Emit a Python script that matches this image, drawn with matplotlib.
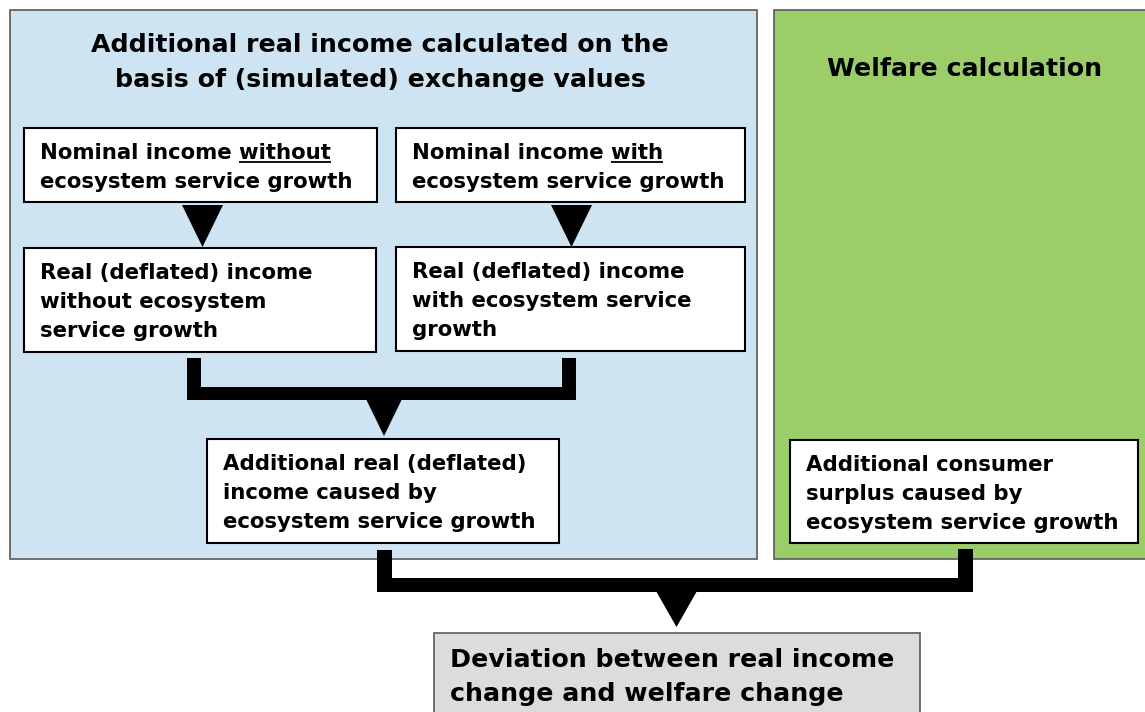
import matplotlib
matplotlib.use('Agg')
import matplotlib.pyplot as plt
from matplotlib.patches import Rectangle, Polygon

# diagram texts
left_title = ['Additional real income calculated on the',
              'basis of (simulated) exchange values']
right_title = 'Welfare calculation'
box_texts = [
    ['Nominal income without', 'ecosystem service growth'],
    ['Nominal income with', 'ecosystem service growth'],
    ['Real (deflated) income', 'without ecosystem', 'service growth'],
    ['Real (deflated) income', 'with ecosystem service', 'growth'],
    ['Additional real (deflated)', 'income caused by', 'ecosystem service growth'],
    ['Additional consumer', 'surplus caused by', 'ecosystem service growth'],
]
underlined = {0: 'without', 1: 'with'}
result_text = ['Deviation between real income', 'change and welfare change']

# layout in pixels (x0, y0, x1, y1), y downwards
box_geom = [(24, 128, 377, 202), (396, 128, 745, 202),
            (24, 248, 376, 352), (396, 247, 745, 351),
            (207, 439, 559, 543), (790, 440, 1138, 543)]

W, H = 1145, 712
fig = plt.figure(figsize=(W / 100, H / 100), dpi=100)
ax = fig.add_axes([0, 0, 1, 1])
ax.set_xlim(0, W)
ax.set_ylim(H, 0)
ax.axis('off')

font = 'DejaVu Sans'
fs_box = 15.3
fs_title = 18.2


def rect(x0, y0, x1, y1, fc, ec='black', lw=1.5, z=1):
    ax.add_patch(Rectangle((x0, y0), x1 - x0, y1 - y0, facecolor=fc,
                           edgecolor=ec, linewidth=lw, zorder=z))


def bar(x0, y0, x1, y1):
    ax.add_patch(Rectangle((x0, y0), x1 - x0, y1 - y0, facecolor='black',
                           edgecolor='none', zorder=3))


def tri(xl, xr, ytop, ytip):
    ax.add_patch(Polygon([(xl, ytop), (xr, ytop), ((xl + xr) / 2, ytip)],
                         closed=True, facecolor='black', edgecolor='none', zorder=3))


# panels
rect(10, 10, 757, 559, '#cfe4f3', ec='#5a5a5a', lw=1.2, z=0)
rect(774, 10, 1150, 559, '#9bcd69', ec='#5a5a5a', lw=1.2, z=0)

for i, line in enumerate(left_title):
    ax.text(380, 52 + i * 35, line, ha='center', va='baseline',
            fontsize=fs_title, fontweight='bold', family=font)
ax.text(965, 76, right_title, ha='center', va='baseline',
        fontsize=fs_title, fontweight='bold', family=font)

# boxes
texts_ul = []
for k, (g, lines) in enumerate(zip(box_geom, box_texts)):
    x0, y0, x1, y1 = g
    rect(x0, y0, x1, y1, 'white', z=2)
    for i, line in enumerate(lines):
        t = ax.text(x0 + 16, y0 + 31 + i * 29, line, ha='left', va='baseline',
                    fontsize=fs_box, fontweight='bold', family=font, zorder=4)
        if i == 0 and k in underlined:
            texts_ul.append((t, underlined[k], y0 + 31))

# arrows
tri(182, 223, 205, 247)
tri(551, 592, 205, 247)
bar(187, 358, 201, 400)
bar(562, 358, 576, 400)
bar(187, 387, 576, 400)
tri(366, 402, 399, 436)
bar(377, 550, 392, 592)
bar(958, 549, 973, 592)
bar(377, 578, 973, 592)
tri(656, 697, 591, 627)

# result box
rect(434, 633, 920, 730, '#dcdcdc', ec='#5a5a5a', lw=1.2, z=2)
for i, line in enumerate(result_text):
    ax.text(450, 667 + i * 34, line, ha='left', va='baseline',
            fontsize=fs_title, fontweight='bold', family=font, zorder=4)

# underline words
fig.canvas.draw()
r = fig.canvas.get_renderer()
inv = ax.transData.inverted()
for t, word, yb in texts_ul:
    bb = t.get_window_extent(r)
    tmp = ax.text(0, 0, word, fontsize=fs_box, fontweight='bold', family=font)
    wb = tmp.get_window_extent(r)
    tmp.remove()
    xr = inv.transform((bb.x1, 0))[0]
    xl = inv.transform((bb.x1 - wb.width, 0))[0]
    ax.plot([xl, xr], [yb + 3, yb + 3], color='black', lw=1.3, zorder=4,
            solid_capstyle='butt')

fig.savefig('out.png', dpi=100)
